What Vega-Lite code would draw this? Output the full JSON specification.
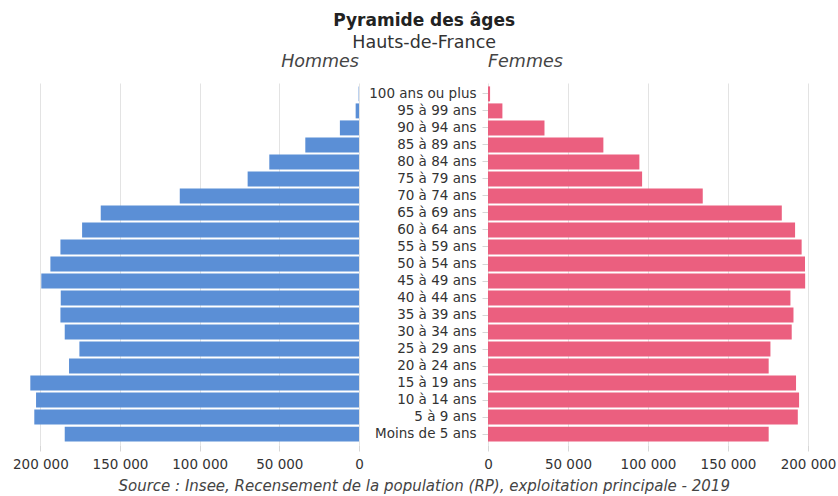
{
  "$schema": "https://vega.github.io/schema/vega-lite/v6.json",
  "padding": {"left": 12, "top": 12, "right": 2, "bottom": 2},
  "background": "white",
  "config": {
    "font": "DejaVu Sans",
    "view": {"stroke": null},
    "locale": {"number": {"decimal": ",", "thousands": " ", "grouping": [3], "currency": ["", " €"]}},
    "axis": {"labelFont": "DejaVu Sans", "labelFontSize": 13.5, "labelColor": "#333", "gridColor": "#e3e3e3", "tickColor": "#d6d6d6", "domain": false, "title": null}
  },
  "title": {"text": "Pyramide des âges", "subtitle": "Hauts-de-France", "anchor": "middle", "fontSize": 17, "fontWeight": "bold", "color": "#222", "subtitleFontSize": 17.5, "subtitleColor": "#333", "subtitlePadding": 4, "offset": 0},
  "datasets": {
    "pop": [
      {"age": "100 ans ou plus", "sexe": "Hommes", "pop": 250},
      {"age": "95 à 99 ans", "sexe": "Hommes", "pop": 2100},
      {"age": "90 à 94 ans", "sexe": "Hommes", "pop": 12000},
      {"age": "85 à 89 ans", "sexe": "Hommes", "pop": 33700},
      {"age": "80 à 84 ans", "sexe": "Hommes", "pop": 56300},
      {"age": "75 à 79 ans", "sexe": "Hommes", "pop": 69900},
      {"age": "70 à 74 ans", "sexe": "Hommes", "pop": 112500},
      {"age": "65 à 69 ans", "sexe": "Hommes", "pop": 162100},
      {"age": "60 à 64 ans", "sexe": "Hommes", "pop": 173800},
      {"age": "55 à 59 ans", "sexe": "Hommes", "pop": 187400},
      {"age": "50 à 54 ans", "sexe": "Hommes", "pop": 193700},
      {"age": "45 à 49 ans", "sexe": "Hommes", "pop": 199400},
      {"age": "40 à 44 ans", "sexe": "Hommes", "pop": 187200},
      {"age": "35 à 39 ans", "sexe": "Hommes", "pop": 187400},
      {"age": "30 à 34 ans", "sexe": "Hommes", "pop": 184700},
      {"age": "25 à 29 ans", "sexe": "Hommes", "pop": 175500},
      {"age": "20 à 24 ans", "sexe": "Hommes", "pop": 182000},
      {"age": "15 à 19 ans", "sexe": "Hommes", "pop": 206300},
      {"age": "10 à 14 ans", "sexe": "Hommes", "pop": 202700},
      {"age": "5 à 9 ans", "sexe": "Hommes", "pop": 203800},
      {"age": "Moins de 5 ans", "sexe": "Hommes", "pop": 184700},
      {"age": "100 ans ou plus", "sexe": "Femmes", "pop": 1300},
      {"age": "95 à 99 ans", "sexe": "Femmes", "pop": 9000},
      {"age": "90 à 94 ans", "sexe": "Femmes", "pop": 35300},
      {"age": "85 à 89 ans", "sexe": "Femmes", "pop": 72100},
      {"age": "80 à 84 ans", "sexe": "Femmes", "pop": 94600},
      {"age": "75 à 79 ans", "sexe": "Femmes", "pop": 96300},
      {"age": "70 à 74 ans", "sexe": "Femmes", "pop": 134200},
      {"age": "65 à 69 ans", "sexe": "Femmes", "pop": 183600},
      {"age": "60 à 64 ans", "sexe": "Femmes", "pop": 191900},
      {"age": "55 à 59 ans", "sexe": "Femmes", "pop": 196000},
      {"age": "50 à 54 ans", "sexe": "Femmes", "pop": 198100},
      {"age": "45 à 49 ans", "sexe": "Femmes", "pop": 198200},
      {"age": "40 à 44 ans", "sexe": "Femmes", "pop": 189000},
      {"age": "35 à 39 ans", "sexe": "Femmes", "pop": 190900},
      {"age": "30 à 34 ans", "sexe": "Femmes", "pop": 189800},
      {"age": "25 à 29 ans", "sexe": "Femmes", "pop": 176500},
      {"age": "20 à 24 ans", "sexe": "Femmes", "pop": 175400},
      {"age": "15 à 19 ans", "sexe": "Femmes", "pop": 192500},
      {"age": "10 à 14 ans", "sexe": "Femmes", "pop": 194400},
      {"age": "5 à 9 ans", "sexe": "Femmes", "pop": 193600},
      {"age": "Moins de 5 ans", "sexe": "Femmes", "pop": 175400}
    ]
  },
  "vconcat": [
    {
      "title": {"text": "Source : Insee, Recensement de la population (RP), exploitation principale - 2019", "orient": "bottom", "anchor": "middle", "fontSize": 15, "fontStyle": "italic", "fontWeight": "normal", "color": "#444", "offset": 8},
      "spacing": 4,
      "hconcat": [
        {
          "width": 329,
          "height": 362,
          "title": {"text": "Hommes", "anchor": "end", "frame": "group", "fontSize": 17.5, "fontStyle": "italic", "fontWeight": "normal", "color": "#444", "offset": 13},
          "data": {"name": "pop"},
          "transform": [{"filter": "datum.sexe === 'Hommes'"}],
          "mark": {"type": "bar", "color": "#5b8fd6"},
          "encoding": {
            "y": {"field": "age", "type": "nominal", "sort": ["100 ans ou plus", "95 à 99 ans", "90 à 94 ans", "85 à 89 ans", "80 à 84 ans", "75 à 79 ans", "70 à 74 ans", "65 à 69 ans", "60 à 64 ans", "55 à 59 ans", "50 à 54 ans", "45 à 49 ans", "40 à 44 ans", "35 à 39 ans", "30 à 34 ans", "25 à 29 ans", "20 à 24 ans", "15 à 19 ans", "10 à 14 ans", "5 à 9 ans", "Moins de 5 ans"], "scale": {"paddingInner": 0.12, "paddingOuter": 0.2}, "axis": null},
            "x": {"field": "pop", "type": "quantitative", "scale": {"domain": [0, 206500], "reverse": true, "nice": false}, "axis": {"values": [0, 50000, 100000, 150000, 200000], "format": ",d", "grid": true, "ticks": true, "tickSize": 6, "labelPadding": 6, "labelFlush": false}}
          }
        },
        {
          "width": 329,
          "height": 362,
          "title": {"text": "Femmes", "anchor": "start", "frame": "group", "fontSize": 17.5, "fontStyle": "italic", "fontWeight": "normal", "color": "#444", "offset": 13},
          "data": {"name": "pop"},
          "transform": [{"filter": "datum.sexe === 'Femmes'"}],
          "mark": {"type": "bar", "color": "#eb5f7f"},
          "encoding": {
            "y": {"field": "age", "type": "nominal", "sort": ["100 ans ou plus", "95 à 99 ans", "90 à 94 ans", "85 à 89 ans", "80 à 84 ans", "75 à 79 ans", "70 à 74 ans", "65 à 69 ans", "60 à 64 ans", "55 à 59 ans", "50 à 54 ans", "45 à 49 ans", "40 à 44 ans", "35 à 39 ans", "30 à 34 ans", "25 à 29 ans", "20 à 24 ans", "15 à 19 ans", "10 à 14 ans", "5 à 9 ans", "Moins de 5 ans"], "scale": {"paddingInner": 0.12, "paddingOuter": 0.2}, "axis": {"orient": "left", "ticks": true, "tickSize": 6, "labelPadding": 6, "grid": false, "domain": false}},
            "x": {"field": "pop", "type": "quantitative", "scale": {"domain": [0, 205600], "nice": false}, "axis": {"values": [0, 50000, 100000, 150000, 200000], "format": ",d", "grid": true, "ticks": true, "tickSize": 6, "labelPadding": 6, "labelFlush": false}}
          }
        }
      ]
    }
  ]
}
